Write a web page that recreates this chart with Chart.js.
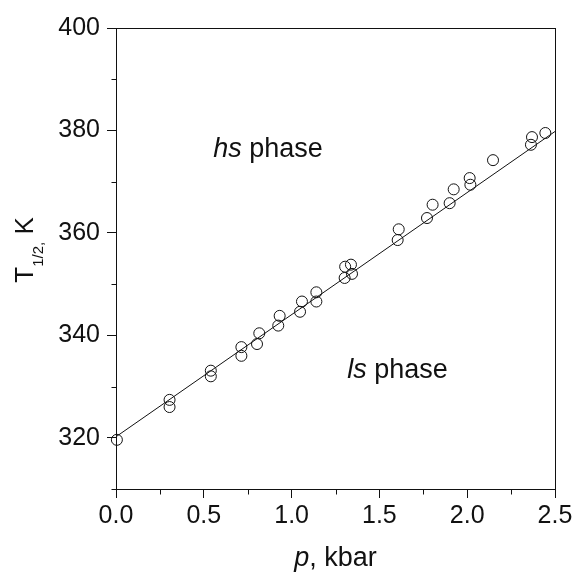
<!DOCTYPE html>
<html>
<head>
<meta charset="utf-8">
<script src="https://cdn.jsdelivr.net/npm/chart.js@4"></script>
<style>
  html, body { margin: 0; padding: 0; background: #fff; }
  canvas { display: block; }
</style>
</head>
<body>
<canvas id="c" width="576" height="572"></canvas>
<script>
// ---- data ----
const pressure = [0.005, 0.305, 0.305, 0.54, 0.54, 0.714, 0.714, 0.816, 0.803, 0.932, 0.924,
  1.059, 1.048, 1.141, 1.141, 1.305, 1.338, 1.344, 1.302, 1.610, 1.604, 1.771, 1.803,
  1.900, 1.923, 2.014, 2.018, 2.147, 2.369, 2.363, 2.445];
const tHalf = [319.6, 327.4, 326.0, 333.1, 332.0, 337.7, 336.0, 340.4, 338.3, 343.8, 341.9,
  346.6, 344.6, 348.4, 346.6, 353.4, 353.8, 352.0, 351.2, 360.7, 358.6, 362.9, 365.5,
  365.8, 368.5, 370.7, 369.4, 374.2, 378.7, 377.2, 379.5];
const fitP = [0.0, 2.5];
const fitT = [320.2, 379.8];
const xTicks = [0.0, 0.5, 1.0, 1.5, 2.0, 2.5];
const xMinor = [0.25, 0.75, 1.25, 1.75, 2.25];
const yTicks = [320, 340, 360, 380, 400];
const yMinor = [310, 330, 350, 370, 390];
const labelHs = { p: 0.554, T: 374.8, italic: 'hs', rest: ' phase' };
const labelLs = { p: 1.317, T: 331.65, italic: 'ls', rest: ' phase' };

const FONT = '"Liberation Sans", Arial, sans-serif';
const INK = '#111';

const decor = {
  id: 'decor',
  afterDraw(chart) {
    const { ctx, chartArea: a, scales: { x, y } } = chart;
    ctx.save();
    ctx.strokeStyle = INK;
    ctx.lineWidth = 1;
    const L = Math.round(a.left) + 0.5, R = Math.round(a.right) + 0.5;
    const T = Math.round(a.top) + 0.5, B = Math.round(a.bottom) + 0.5;
    ctx.strokeRect(L, T, R - L, B - T);
    ctx.beginPath();
    xMinor.forEach(v => {
      const px = Math.round(x.getPixelForValue(v)) + 0.5;
      ctx.moveTo(px, B); ctx.lineTo(px, B + 5);
    });
    yMinor.forEach(v => {
      const py = Math.round(y.getPixelForValue(v)) + 0.5;
      ctx.moveTo(L, py); ctx.lineTo(L - 5, py);
    });
    ctx.stroke();

    // in-plot labels
    ctx.fillStyle = INK;
    ctx.textBaseline = 'alphabetic';
    ctx.textAlign = 'left';
    [labelHs, labelLs].forEach(lb => {
      const px = x.getPixelForValue(lb.p), py = y.getPixelForValue(lb.T);
      ctx.font = 'italic 27px ' + FONT;
      ctx.fillText(lb.italic, px, py);
      const w = ctx.measureText(lb.italic).width;
      ctx.font = '27px ' + FONT;
      ctx.fillText(lb.rest, px + w, py);
    });

    // x title: "p, kbar"
    ctx.font = 'italic 27px ' + FONT;
    const wp = ctx.measureText('p').width;
    ctx.font = '27px ' + FONT;
    const wr = ctx.measureText(', kbar').width;
    const cx = (a.left + a.right) / 2;
    let sx = cx - (wp + wr) / 2;
    ctx.font = 'italic 27px ' + FONT;
    ctx.fillText('p', sx, 566);
    ctx.font = '27px ' + FONT;
    ctx.fillText(', kbar', sx + wp, 566);

    // y title: "T1/2, K" rotated
    ctx.font = '26px ' + FONT;
    const wT = ctx.measureText('T').width;
    ctx.font = '15px ' + FONT;
    const wS = ctx.measureText('1/2,').width;
    ctx.font = '26px ' + FONT;
    const wK = ctx.measureText(' K').width;
    const total = wT + wS + wK;
    ctx.translate(33, 250 + total / 2);
    ctx.rotate(-Math.PI / 2);
    ctx.font = '26px ' + FONT;
    ctx.fillText('T', 0, 0);
    ctx.font = '15px ' + FONT;
    ctx.fillText('1/2,', wT, 10);
    ctx.font = '26px ' + FONT;
    ctx.fillText(' K', wT + wS, 0);
    ctx.restore();
  }
};

new Chart(document.getElementById('c'), {
  type: 'scatter',
  data: {
    datasets: [
      {
        type: 'line',
        data: fitP.map((p, i) => ({ x: p, y: fitT[i] })),
        borderColor: INK,
        borderWidth: 1,
        pointRadius: 0,
        fill: false,
        tension: 0
      },
      {
        data: pressure.map((p, i) => ({ x: p, y: tHalf[i] })),
        pointStyle: 'circle',
        pointRadius: 5.5,
        pointBorderWidth: 1,
        pointBorderColor: INK,
        pointBackgroundColor: 'rgba(0,0,0,0)',
        clip: false
      }
    ]
  },
  options: {
    responsive: false,
    animation: false,
    devicePixelRatio: 1,
    layout: { padding: { left: 0, top: 28, right: 21, bottom: 0 } },
    plugins: { legend: { display: false }, tooltip: { enabled: false } },
    scales: {
      x: {
        type: 'linear',
        min: 0, max: 2.5,
        afterBuildTicks: s => { s.ticks = xTicks.map(v => ({ value: v })); },
        afterFit: s => { s.height = 83; },
        border: { display: false },
        grid: { drawOnChartArea: false, drawTicks: true, tickLength: 9, tickColor: INK, tickWidth: 1 },
        ticks: {
          color: INK, padding: 3,
          font: { family: FONT, size: 25 },
          maxRotation: 0, autoSkip: false,
          callback: v => Number(v).toFixed(1)
        }
      },
      y: {
        type: 'linear',
        min: 310, max: 400,
        afterBuildTicks: s => { s.ticks = yTicks.map(v => ({ value: v })); },
        afterFit: s => { s.width = 116; },
        border: { display: false },
        grid: { drawOnChartArea: false, drawTicks: true, tickLength: 9, tickColor: INK, tickWidth: 1 },
        ticks: {
          color: INK, padding: 7,
          font: { family: FONT, size: 25 },
          autoSkip: false,
          callback: v => String(v)
        }
      }
    }
  },
  plugins: [decor]
});
</script>
</body>
</html>
